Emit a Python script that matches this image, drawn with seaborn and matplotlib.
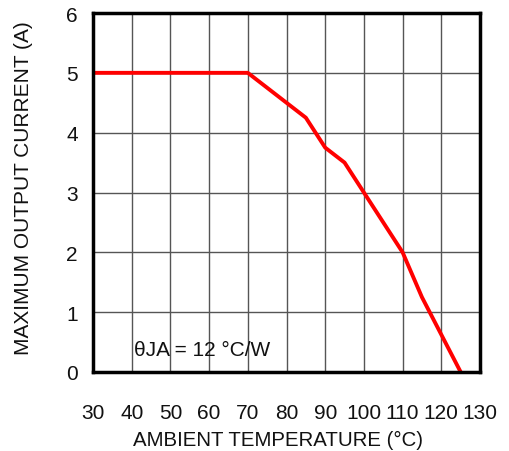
import matplotlib
matplotlib.use("Agg")
import matplotlib.pyplot as plt
import seaborn as sns
import pandas as pd

temperature = [30, 70, 85, 90, 95, 100, 110, 115, 125]
current = [5.0, 5.0, 4.25, 3.75, 3.5, 3.0, 2.0, 1.25, 0.0]
x_ticks = [30, 40, 50, 60, 70, 80, 90, 100, 110, 120, 130]
y_ticks = [0, 1, 2, 3, 4, 5, 6]

sns.set_theme(style="white")
plt.rcParams['font.family'] = ['Liberation Sans', 'DejaVu Sans']

df = pd.DataFrame({"t": temperature, "i": current})

fig = plt.figure(figsize=(5.10, 4.52), dpi=100)
ax = fig.add_axes([93/510, 1-373/452, (480-93)/510, (373-14)/452])

sns.lineplot(data=df, x="t", y="i", ax=ax, color="#ff0000", linewidth=2.8, sort=False)

ax.set_xlim(30, 130)
ax.set_ylim(0, 6)
ax.set_xticks(x_ticks)
ax.set_yticks(y_ticks)
ax.grid(True, color="#555555", linewidth=1.0)
ax.set_axisbelow(True)
for s in ax.spines.values():
    s.set_color("black")
    s.set_linewidth(2.5)
ax.tick_params(axis="x", length=0, pad=22, labelsize=15, colors="#111111")
ax.tick_params(axis="y", length=0, pad=11, labelsize=15, colors="#111111")
ax.set_xlabel("AMBIENT TEMPERATURE (°C)", fontsize=14.7, color="#111111")
ax.set_ylabel("MAXIMUM OUTPUT CURRENT (A)", fontsize=15, color="#111111")
ax.xaxis.set_label_coords(0.478, -0.16)
ax.yaxis.set_label_coords(-0.155, 0.515)
ax.text(40.5, 0.37, "θJA = 12 °C/W", fontsize=15, color="#111111", va="center", ha="left")

fig.savefig("out.png", dpi=100)
